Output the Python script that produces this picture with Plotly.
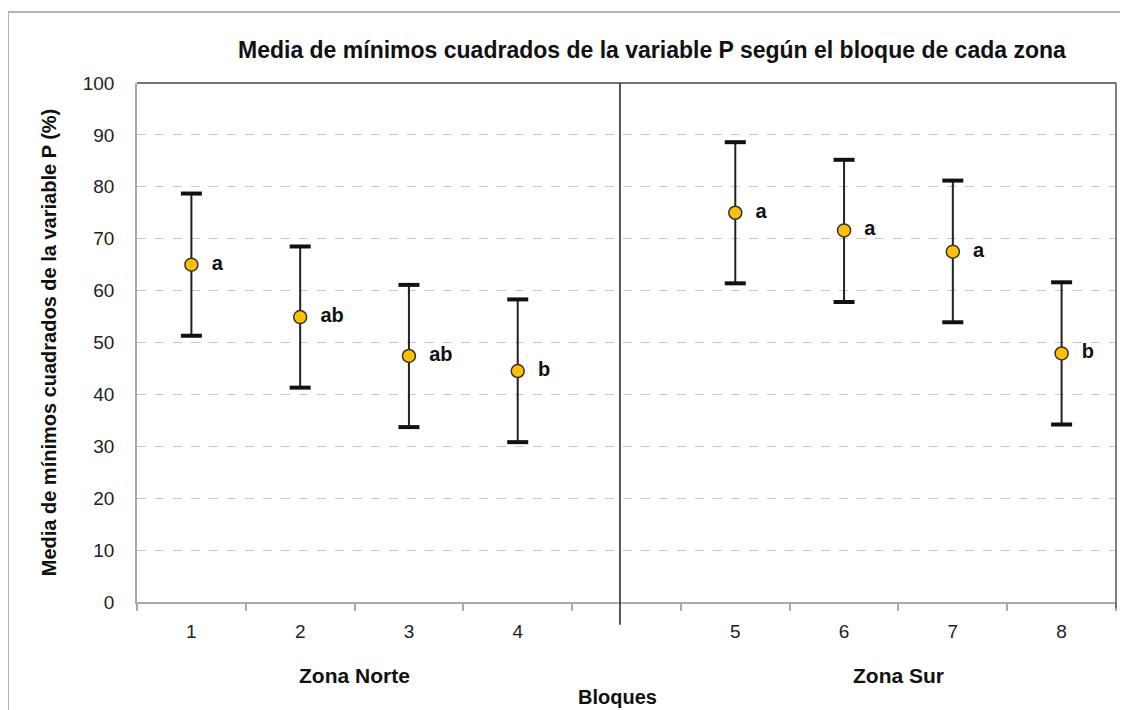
import plotly.graph_objects as go

categories = ["1", "2", "3", "4", " ", "5", "6", "7", "8"]
blocks = ["1", "2", "3", "4", "5", "6", "7", "8"]
means = [65.0, 54.9, 47.4, 44.5, 75.0, 71.6, 67.5, 47.9]
err_plus = [13.7, 13.6, 13.7, 13.8, 13.6, 13.6, 13.7, 13.7]
err_minus = [13.7, 13.6, 13.7, 13.7, 13.6, 13.8, 13.6, 13.7]
letters = ["a", "ab", "ab", "b", "a", "a", "a", "b"]
y_ticks = list(range(0, 101, 10))

FONT = "Liberation Sans, Arial, sans-serif"

# Page body has an 8px margin; the figure is sized/offset to compensate.
W, H = 1120, 702
L, R, T, B = 129, 12, 75, 108
PW = W - L - R
PH = H - T - B


def px_x(x):
    return (x - 8 - L) / PW


def px_y(y):
    return (H - B + 8 - y) / PH


fig = go.Figure()
fig.add_trace(go.Scatter(
    x=blocks, y=means,
    mode="lines",
    line=dict(width=0, color="rgba(0,0,0,0)"),
    error_y=dict(type="data", symmetric=False, array=err_plus, arrayminus=err_minus,
                 color="#222222", thickness=2, width=0),
    showlegend=False, hoverinfo="skip",
))
# error bar caps (thicker, as in the reference)
caps_x = blocks + blocks
caps_y = [m + e for m, e in zip(means, err_plus)] + [m - e for m, e in zip(means, err_minus)]
fig.add_trace(go.Scatter(
    x=caps_x, y=caps_y, mode="markers",
    marker=dict(symbol="line-ew", size=15, line=dict(color="#111111", width=4)),
    showlegend=False, hoverinfo="skip", cliponaxis=False,
))
fig.add_trace(go.Scatter(
    x=blocks, y=means,
    mode="markers+text",
    text=letters,
    textposition="middle right",
    textfont=dict(family=FONT, size=20, color="#111111"),
    texttemplate="  <b>%{text}</b>",
    marker=dict(size=13, color="#FFC000", line=dict(color="#333333", width=1.5)),
    showlegend=False,
    cliponaxis=False,
))

fig.update_layout(
    width=W, height=H,
    paper_bgcolor="white", plot_bgcolor="white",
    margin=dict(l=L, r=R, t=T, b=B),
    font=dict(family=FONT, size=19, color="#222222"),
    xaxis=dict(
        type="category", categoryorder="array", categoryarray=categories,
        range=[-0.5, 8.5], tickson="boundaries", ticks="outside", ticklen=7,
        tickcolor="#aaaaaa", tickwidth=1.5,
        showline=True, linecolor="#aaaaaa", linewidth=1.5,
        showgrid=False, tickfont=dict(size=19, color="#222222"),
        ticklabelstandoff=11,
    ),
    yaxis=dict(
        range=[0, 100], tickvals=y_ticks, ticks="outside", ticklen=6,
        tickcolor="rgba(0,0,0,0)",
        showline=True, linecolor="#aaaaaa", linewidth=1.5,
        showgrid=True, gridcolor="#c8c8c8", griddash="dash", gridwidth=1,
        zeroline=False, tickfont=dict(size=19, color="#222222"),
        ticklabelstandoff=11,
        title=dict(text="<b>Media de mínimos cuadrados de la variable P (%)</b>",
                   font=dict(size=20, color="#111111"), standoff=21),
    ),
)

shapes = [
    # outer chart border
    dict(type="rect", xref="paper", yref="paper", x0=px_x(8), x1=px_x(1140),
         y0=px_y(740), y1=px_y(12),
         line=dict(color="#999999", width=1.5), layer="below"),
    # top and right plot border
    dict(type="line", xref="paper", yref="paper", x0=0, x1=1, y0=1, y1=1,
         line=dict(color="#444444", width=1.5)),
    dict(type="line", xref="paper", yref="paper", x0=1, x1=1, y0=-0.012, y1=1,
         line=dict(color="#555555", width=1.5)),
    # zone separator
    dict(type="line", xref="x", yref="paper", x0=3.94, x1=3.94, y0=-0.044, y1=1,
         line=dict(color="#222222", width=1.5)),
]
fig.update_layout(shapes=shapes)

annotations = [
    dict(text="<b>Media de mínimos cuadrados de la variable P según el bloque de cada zona</b>",
         xref="paper", yref="paper", x=px_x(652), y=px_y(50),
         xanchor="center", yanchor="middle", showarrow=False,
         font=dict(size=23, color="#111111")),
    dict(text="<b>Zona Norte</b>", xref="x", yref="paper", x=1.5, y=px_y(675),
         xanchor="center", yanchor="middle", showarrow=False,
         font=dict(size=21, color="#111111")),
    dict(text="<b>Zona Sur</b>", xref="x", yref="paper", x=6.5, y=px_y(675),
         xanchor="center", yanchor="middle", showarrow=False,
         font=dict(size=21, color="#111111")),
    dict(text="<b>Bloques</b>", xref="paper", yref="paper", x=px_x(617), y=px_y(697),
         xanchor="center", yanchor="middle", showarrow=False,
         font=dict(size=20, color="#111111")),
]
fig.update_layout(annotations=annotations)

fig.write_html("out.html")
